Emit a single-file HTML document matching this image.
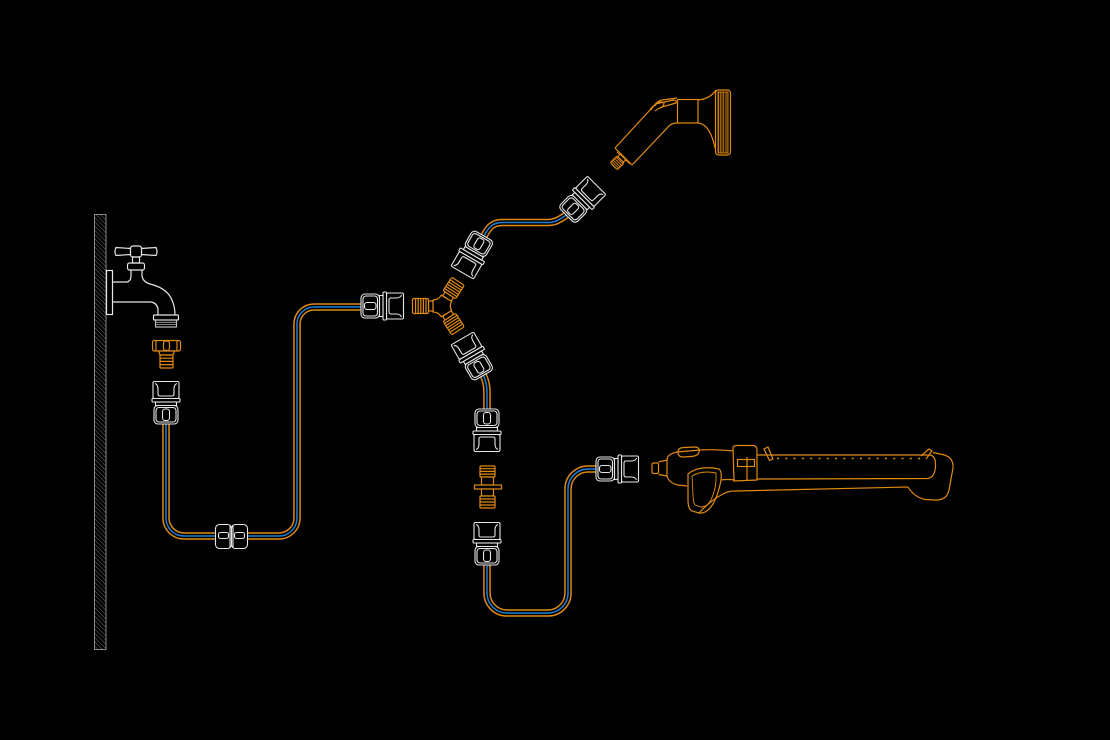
<!DOCTYPE html>
<html><head><meta charset="utf-8"><style>
html,body{margin:0;padding:0;background:#000;}
svg{display:block}
</style></head><body>
<svg width="1110" height="740" viewBox="0 0 1110 740" xmlns="http://www.w3.org/2000/svg">
<defs>
<pattern id="hatch" width="3" height="3" patternUnits="userSpaceOnUse" patternTransform="rotate(-45)">
<line x1="0" y1="0" x2="0" y2="3" stroke="#6a6a6a" stroke-width="1"/>
</pattern>
<pattern id="rib" width="1.6" height="4" patternUnits="userSpaceOnUse">
<line x1="0.4" y1="0" x2="0.4" y2="4" stroke="#e08a12" stroke-width="0.7"/>
</pattern>
</defs>
<rect width="1110" height="740" fill="#000"/>

<!-- wall -->
<rect x="94.5" y="214.5" width="11.5" height="435" fill="url(#hatch)" stroke="#8a8a8a" stroke-width="1"/>

<!-- hoses -->
<g fill="none" stroke-linecap="butt">
<g stroke="#e08a12" stroke-width="7.6">
<path d="M166,424 L166,518 A18,18 0 0 0 184,536 L279,536 A18,18 0 0 0 297,518 L297,324 A17,17 0 0 1 314,307 L362,307"/>
<path d="M483,238 C488,228 492,222.5 502,222.5 L548,222.5 C556,222.5 560,219 568,214"/>
<path d="M482,373 Q487,381 487,393 L487,410"/>
<path d="M487,563 L487,593 A20,20 0 0 0 507,613 L548,613 A20,20 0 0 0 568,593 L568,489 A20,20 0 0 1 588,469 L597,469"/>
</g>
<g stroke="#000" stroke-width="4.6">
<path d="M166,424 L166,518 A18,18 0 0 0 184,536 L279,536 A18,18 0 0 0 297,518 L297,324 A17,17 0 0 1 314,307 L362,307"/>
<path d="M483,238 C488,228 492,222.5 502,222.5 L548,222.5 C556,222.5 560,219 568,214"/>
<path d="M482,373 Q487,381 487,393 L487,410"/>
<path d="M487,563 L487,593 A20,20 0 0 0 507,613 L548,613 A20,20 0 0 0 568,593 L568,489 A20,20 0 0 1 588,469 L597,469"/>
</g>
<g stroke="#1f7fd6" stroke-width="1.5">
<path d="M166,424 L166,518 A18,18 0 0 0 184,536 L279,536 A18,18 0 0 0 297,518 L297,324 A17,17 0 0 1 314,307 L362,307"/>
<path d="M483,238 C488,228 492,222.5 502,222.5 L548,222.5 C556,222.5 560,219 568,214"/>
<path d="M482,373 Q487,381 487,393 L487,410"/>
<path d="M487,563 L487,593 A20,20 0 0 0 507,613 L548,613 A20,20 0 0 0 568,593 L568,489 A20,20 0 0 1 588,469 L597,469"/>
</g>
</g>

<!-- tap -->
<g fill="none" stroke="#e6e6e6" stroke-width="1.2">
<rect x="106.5" y="270.5" width="6" height="44"/>
<path d="M131,248.5 L116,247.5 Q114,251.5 116,255.5 L131,254.5"/>
<path d="M141,248.5 L156,247.5 Q158,251.5 156,255.5 L141,254.5"/>
<rect x="130.5" y="246" width="11" height="11" rx="2.5"/>
<rect x="132.5" y="257" width="7" height="6"/>
<rect x="127.5" y="263" width="17" height="7" rx="2"/>
<path d="M112.5,282 L127,282 Q131,281 131,276 L131,270"/>
<path d="M142,270 L142,276 Q143,282 150,284 Q167,288 172,300 Q175,307 175,315"/>
<path d="M112.5,302 L151,302 Q157,303 158,309 L158,315"/>
<rect x="153.5" y="315" width="25" height="5" rx="1"/>
<rect x="155.5" y="320" width="21" height="7" stroke="#bbb"/>
<path d="M156,322.3 H176 M156,324.6 H176" stroke="#aaa" stroke-width="0.8"/>
</g>

<!-- orange tap adapter -->
<g fill="#000" stroke="#e08a12" stroke-width="1.2">
<rect x="152.5" y="340.5" width="28" height="10.5" rx="2"/>
<path d="M156,341 V350.5 M177,341 V350.5" fill="none"/>
<rect x="163.5" y="341" width="6" height="9.5" rx="2.5"/>
<path d="M158.5,351 L174.5,351 L173,355 L160,355 Z"/>
<rect x="160" y="355" width="13" height="13" rx="1"/>
<path d="M160,358.2 H173 M160,361.4 H173 M160,364.6 H173" fill="none"/>
</g>

<!-- couplings (white) -->
<g fill="#000" stroke="#e6e6e6" stroke-width="1.1">
 <g transform="translate(166,381)">
  <rect x="-13" y="0.5" width="26" height="17" rx="1.5"/>
  <path d="M-11,2.5 Q-8,3.5 -8,8 L-8,13 Q-8,15 -6,15 L6,15 Q8,15 8,13 L8,8 Q8,3.5 11,2.5" fill="none"/>
  <rect x="-14" y="17.5" width="28" height="3.5" rx="1"/>
  <rect x="-10.5" y="21" width="21" height="3.5"/>
  <rect x="-12" y="24.5" width="24" height="18.5" rx="4"/>
  <rect x="-10" y="26.5" width="20" height="14.5" rx="3"/>
  <rect x="-3.5" y="28" width="7" height="11.5" rx="2.5"/>
 </g>
 <g transform="translate(404,306) rotate(90)">
  <rect x="-13" y="0.5" width="26" height="17" rx="1.5"/>
  <path d="M-11,2.5 Q-8,3.5 -8,8 L-8,13 Q-8,15 -6,15 L6,15 Q8,15 8,13 L8,8 Q8,3.5 11,2.5" fill="none"/>
  <rect x="-14" y="17.5" width="28" height="3.5" rx="1"/>
  <rect x="-10.5" y="21" width="21" height="3.5"/>
  <rect x="-12" y="24.5" width="24" height="18.5" rx="4"/>
  <rect x="-10" y="26.5" width="20" height="14.5" rx="3"/>
  <rect x="-3.5" y="28" width="7" height="11.5" rx="2.5"/>
 </g>
 <g transform="translate(462,273) rotate(-150)">
  <rect x="-13" y="0.5" width="26" height="17" rx="1.5"/>
  <path d="M-11,2.5 Q-8,3.5 -8,8 L-8,13 Q-8,15 -6,15 L6,15 Q8,15 8,13 L8,8 Q8,3.5 11,2.5" fill="none"/>
  <rect x="-14" y="17.5" width="28" height="3.5" rx="1"/>
  <rect x="-10.5" y="21" width="21" height="3.5"/>
  <rect x="-12" y="24.5" width="24" height="18.5" rx="4"/>
  <rect x="-10" y="26.5" width="20" height="14.5" rx="3"/>
  <rect x="-3.5" y="28" width="7" height="11.5" rx="2.5"/>
 </g>
 <g transform="translate(462,338) rotate(-30)">
  <rect x="-13" y="0.5" width="26" height="17" rx="1.5"/>
  <path d="M-11,2.5 Q-8,3.5 -8,8 L-8,13 Q-8,15 -6,15 L6,15 Q8,15 8,13 L8,8 Q8,3.5 11,2.5" fill="none"/>
  <rect x="-14" y="17.5" width="28" height="3.5" rx="1"/>
  <rect x="-10.5" y="21" width="21" height="3.5"/>
  <rect x="-12" y="24.5" width="24" height="18.5" rx="4"/>
  <rect x="-10" y="26.5" width="20" height="14.5" rx="3"/>
  <rect x="-3.5" y="28" width="7" height="11.5" rx="2.5"/>
 </g>
 <g transform="translate(597,185) rotate(45)">
  <rect x="-13" y="0.5" width="26" height="17" rx="1.5"/>
  <path d="M-11,2.5 Q-8,3.5 -8,8 L-8,13 Q-8,15 -6,15 L6,15 Q8,15 8,13 L8,8 Q8,3.5 11,2.5" fill="none"/>
  <rect x="-14" y="17.5" width="28" height="3.5" rx="1"/>
  <rect x="-10.5" y="21" width="21" height="3.5"/>
  <rect x="-12" y="24.5" width="24" height="18.5" rx="4"/>
  <rect x="-10" y="26.5" width="20" height="14.5" rx="3"/>
  <rect x="-3.5" y="28" width="7" height="11.5" rx="2.5"/>
 </g>
 <g transform="translate(487,452) rotate(180)">
  <rect x="-13" y="0.5" width="26" height="17" rx="1.5"/>
  <path d="M-11,2.5 Q-8,3.5 -8,8 L-8,13 Q-8,15 -6,15 L6,15 Q8,15 8,13 L8,8 Q8,3.5 11,2.5" fill="none"/>
  <rect x="-14" y="17.5" width="28" height="3.5" rx="1"/>
  <rect x="-10.5" y="21" width="21" height="3.5"/>
  <rect x="-12" y="24.5" width="24" height="18.5" rx="4"/>
  <rect x="-10" y="26.5" width="20" height="14.5" rx="3"/>
  <rect x="-3.5" y="28" width="7" height="11.5" rx="2.5"/>
 </g>
 <g transform="translate(487,522)">
  <rect x="-13" y="0.5" width="26" height="17" rx="1.5"/>
  <path d="M-11,2.5 Q-8,3.5 -8,8 L-8,13 Q-8,15 -6,15 L6,15 Q8,15 8,13 L8,8 Q8,3.5 11,2.5" fill="none"/>
  <rect x="-14" y="17.5" width="28" height="3.5" rx="1"/>
  <rect x="-10.5" y="21" width="21" height="3.5"/>
  <rect x="-12" y="24.5" width="24" height="18.5" rx="4"/>
  <rect x="-10" y="26.5" width="20" height="14.5" rx="3"/>
  <rect x="-3.5" y="28" width="7" height="11.5" rx="2.5"/>
 </g>
 <g transform="translate(639,469) rotate(90)">
  <rect x="-13" y="0.5" width="26" height="17" rx="1.5"/>
  <path d="M-11,2.5 Q-8,3.5 -8,8 L-8,13 Q-8,15 -6,15 L6,15 Q8,15 8,13 L8,8 Q8,3.5 11,2.5" fill="none"/>
  <rect x="-14" y="17.5" width="28" height="3.5" rx="1"/>
  <rect x="-10.5" y="21" width="21" height="3.5"/>
  <rect x="-12" y="24.5" width="24" height="18.5" rx="4"/>
  <rect x="-10" y="26.5" width="20" height="14.5" rx="3"/>
  <rect x="-3.5" y="28" width="7" height="11.5" rx="2.5"/>
 </g>
 <!-- double coupling on hose 1 -->
 <rect x="215.5" y="524.5" width="16" height="24" rx="4"/>
 <rect x="231.5" y="524.5" width="16" height="24" rx="4"/>
 <rect x="218.5" y="532.5" width="10" height="6" rx="2"/>
 <rect x="234.5" y="532.5" width="10" height="6" rx="2"/>
 <path d="M230,526 V547 M233,526 V547" fill="none"/>
</g>

<!-- Y fitting (orange) -->
<g transform="translate(442,306)" fill="#000" stroke="#e08a12" stroke-width="1.2">
 <path d="M-9,-6 Q-3.5,-6 -0.7,-10.8 L9.7,-4.8 Q6.9,0 9.7,4.8 L-0.7,10.8 Q-3.5,6 -9,6 Z"/>
 <g transform="rotate(180)">
  <rect x="9" y="-5" width="4.5" height="10"/>
  <rect x="13.5" y="-7.5" width="16" height="15" rx="1.5"/>
  <path d="M16,-7.5 V7.5 M18.6,-7.5 V7.5 M21.2,-7.5 V7.5 M23.8,-7.5 V7.5 M26.4,-7.5 V7.5" fill="none"/>
 </g>
 <g transform="rotate(-57)">
  <rect x="9" y="-5" width="4.5" height="10"/>
  <rect x="13.5" y="-7.5" width="16" height="15" rx="1.5"/>
  <path d="M16,-7.5 V7.5 M18.6,-7.5 V7.5 M21.2,-7.5 V7.5 M23.8,-7.5 V7.5 M26.4,-7.5 V7.5" fill="none"/>
 </g>
 <g transform="rotate(57)">
  <rect x="9" y="-5" width="4.5" height="10"/>
  <rect x="13.5" y="-7.5" width="16" height="15" rx="1.5"/>
  <path d="M16,-7.5 V7.5 M18.6,-7.5 V7.5 M21.2,-7.5 V7.5 M23.8,-7.5 V7.5 M26.4,-7.5 V7.5" fill="none"/>
 </g>
</g>

<!-- double male connector (orange) -->
<g fill="#000" stroke="#e08a12" stroke-width="1.2">
 <rect x="480" y="466" width="15" height="11" rx="1"/>
 <path d="M480,468.7 H495 M480,471.4 H495 M480,474.1 H495" fill="none"/>
 <rect x="481.5" y="477" width="12" height="8"/>
 <rect x="474.5" y="485" width="27" height="4"/>
 <rect x="481.5" y="489" width="12" height="7"/>
 <rect x="480" y="496" width="15" height="12" rx="1"/>
 <path d="M480,499 H495 M480,502 H495 M480,505 H495" fill="none"/>
</g>

<!-- spray gun (orange) -->
<g fill="none" stroke="#e08a12" stroke-width="1.2">
 <path d="M615,148 L632,165"/>
 <path d="M617,152 L630,164" stroke-width="0.9"/>
 <path d="M615,148 L650,110 Q652,106 656,105"/>
 <path d="M632,165 L670,125 Q673,123 677,123"/>
 <path d="M655,105 Q657,101 662,100 L677,98"/>
 <path d="M651,110 Q653,104 660,103 L673,100 Q677,100 676,103 L662,107 Q657,109 655,111"/>
 <path d="M657,103 Q661,101 664,103 Q664,107 660,108"/>
 <rect x="677.5" y="99.5" width="20.5" height="23.5"/>
 <path d="M698,100 Q710,99 716,90"/>
 <path d="M698,123 Q710,124 715,148"/>
 <rect x="715.5" y="90" width="15" height="65" rx="3"/>
 <rect x="718" y="92" width="10" height="61" fill="url(#rib)" stroke-width="0.9"/>
 <g transform="translate(623,157) rotate(-45)">
  <rect x="-3.5" y="-4" width="3.5" height="8" fill="#000"/>
  <rect x="-13" y="-5" width="9.5" height="10" rx="1.5" fill="#000"/>
  <path d="M-11,-5 V5 M-9,-5 V5 M-7,-5 V5 M-5,-5 V5" stroke-width="0.9"/>
 </g>
</g>

<!-- sprinkler (orange) -->
<g fill="none" stroke="#e08a12" stroke-width="1.2">
 <rect x="652" y="463" width="6.5" height="10.5" rx="1.5"/>
 <path d="M658.5,462 L667,460 L667,476 L658.5,474.5"/>
 <path d="M667,460 Q667,454 677,452 L700,450 Q715,449 733,451"/>
 <path d="M678,452 Q678,447.5 684,447.5 L696,447 Q700,448 699,452 Q698,456 691,456.5 L683,457 Q678,457 678,452 Z"/>
 <path d="M667,476 Q669,483 678,485 L687,486"/>
 <path d="M688,474 Q699,465 719,469 Q722,471 721,480 Q718,497 711,507 Q705,514 699,513 L692,511 Q688,509 688,500 Z"/>
 <path d="M692,476 Q702,470 716,473 Q717,487 711,500 Q707,507 701,507 L695,505 Q693,502 693,494 Z" stroke-width="0.9"/>
 <path d="M699,513 Q711,500 723,494 Q728,491 735,491 L908,487"/>
 <path d="M721,480 Q727,479 735,480"/>
 <path d="M733,448 Q733,445.5 737,445.5 L753,445.5 Q757,446 757,449.5 L757,480 L734,481 Z"/>
 <rect x="737.5" y="459.5" width="17" height="7"/>
 <line x1="747" y1="457" x2="747" y2="480"/>
 <path d="M757,455 L930,455 Q936,456 935.5,466 Q935,477 928,478.5 L757,479"/>
 <path d="M908,487 Q914,497 925,499.5 L936,500 Q947,500 949,490 L953,468 Q954,456 940,454 L933,452.5"/>
 <path d="M764,449 L768,447 L773,459 L769.5,460.5 Z"/>
 <path d="M921,456 L929,449 L932,451 L926,459"/>
 <line x1="777" y1="458.5" x2="923" y2="458.5" stroke-dasharray="2 6.3" stroke-width="1.6"/>
</g>
</svg>
</body></html>
